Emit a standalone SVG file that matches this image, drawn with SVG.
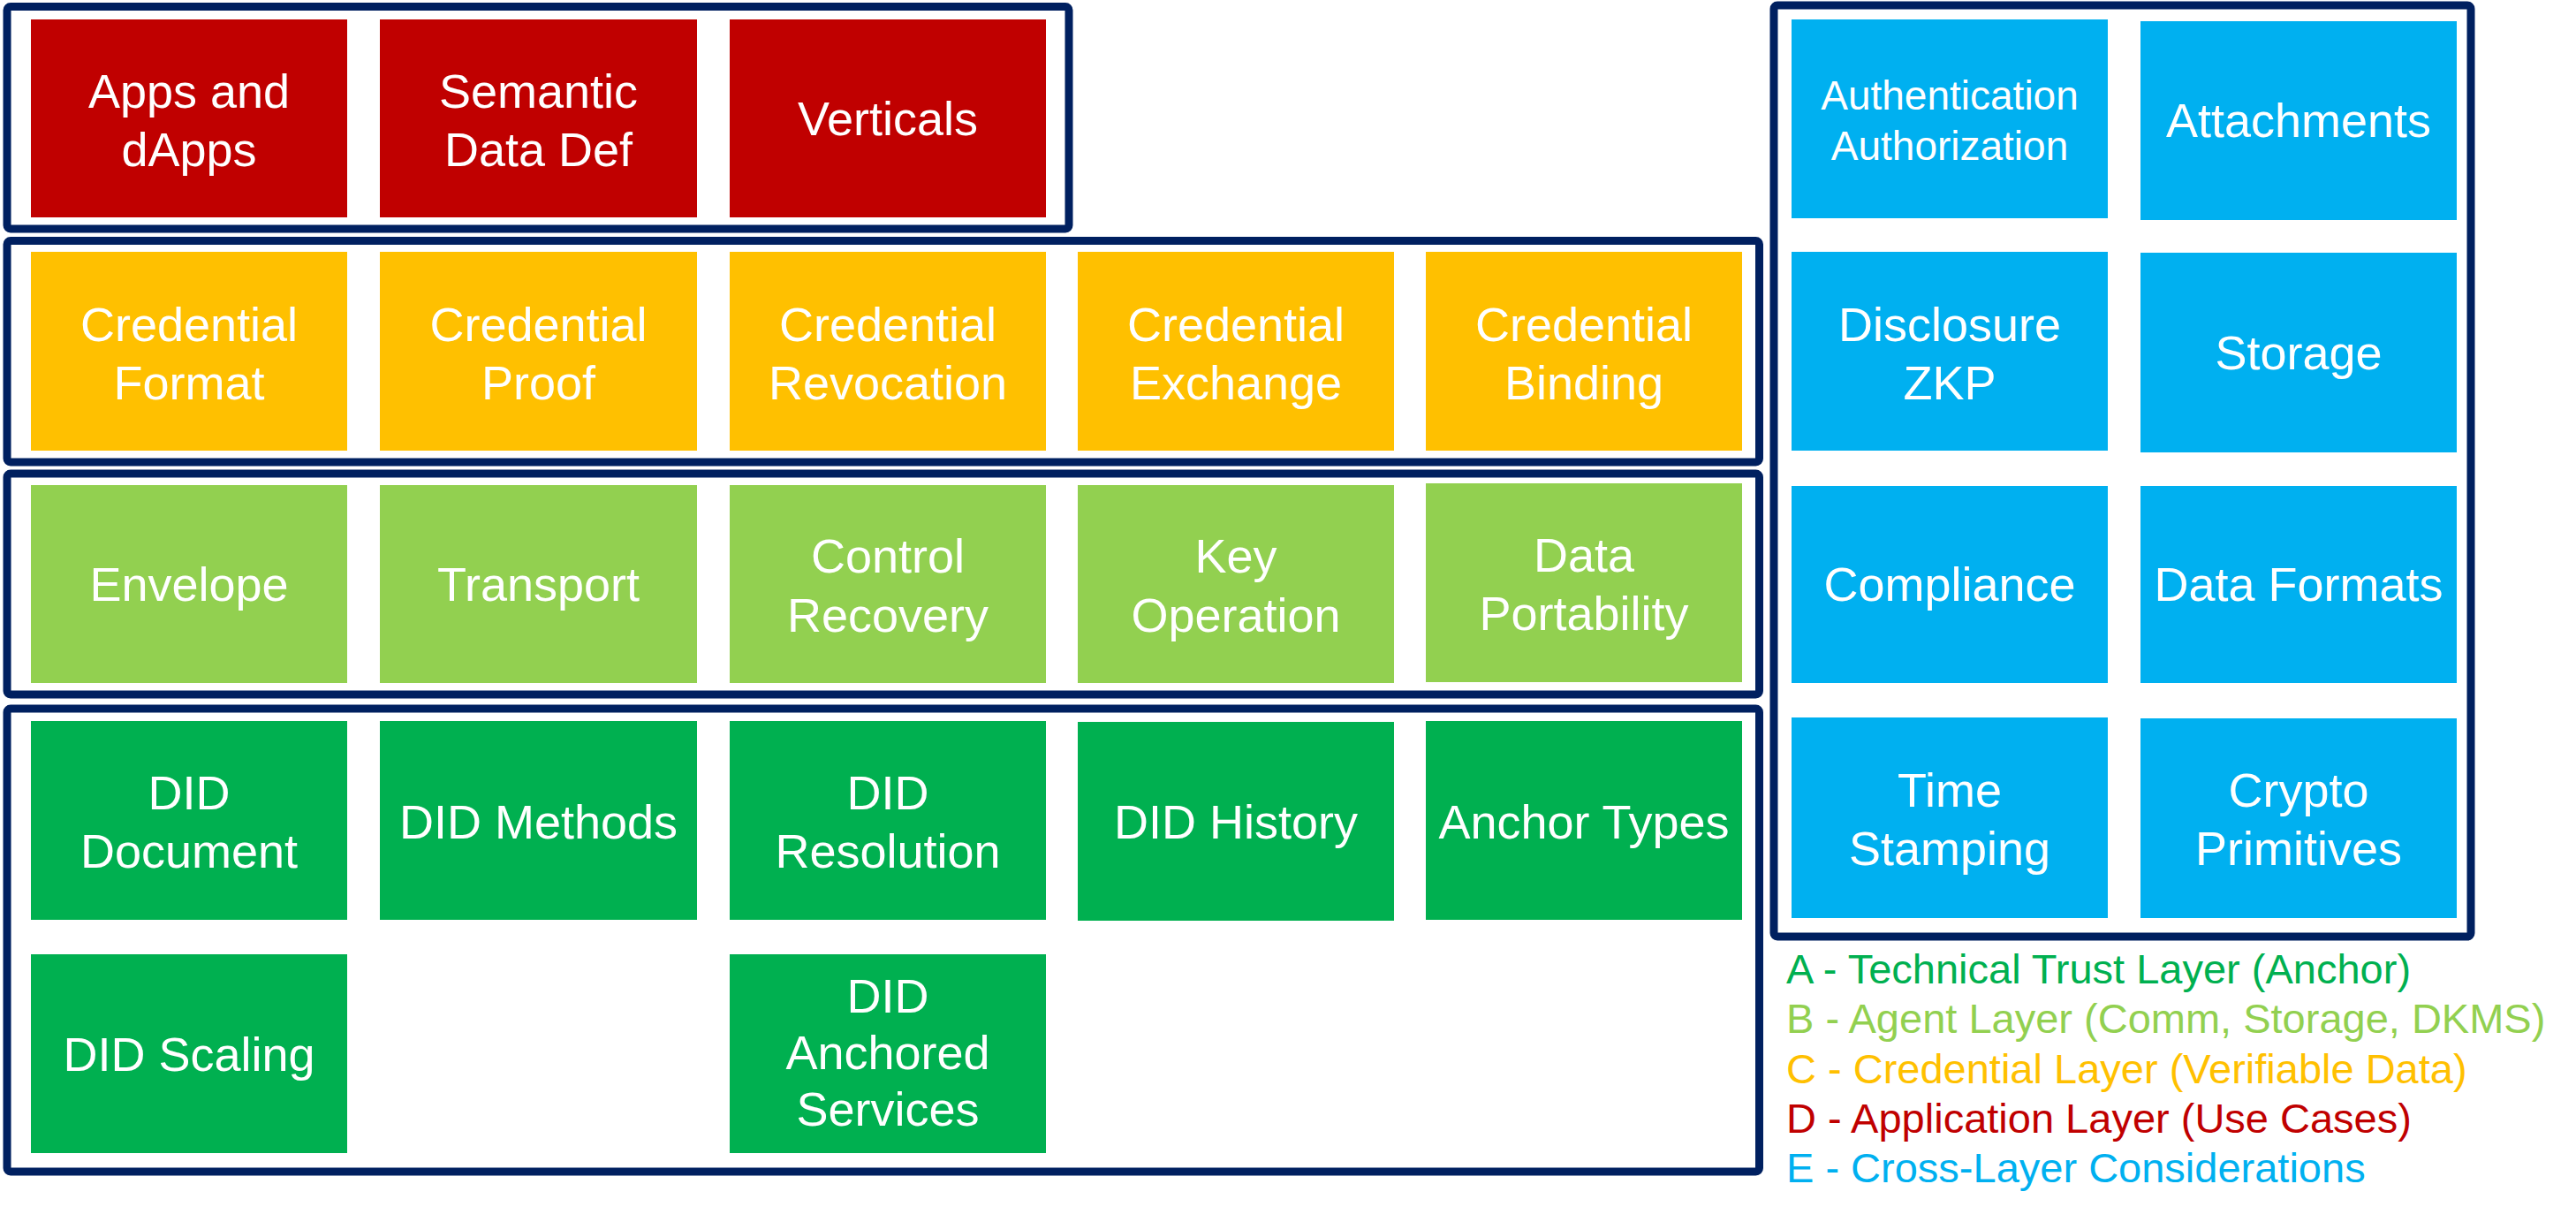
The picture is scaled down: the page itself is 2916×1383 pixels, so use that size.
<svg xmlns="http://www.w3.org/2000/svg" width="2916" height="1383" viewBox="0 0 2916 1383">
<style>
.frame{fill:none;stroke:#002060;stroke-width:9;}
.r{fill:#C00000}.y{fill:#FFC000}.lg{fill:#92D050}.g{fill:#00B050}.b{fill:#00B0F0}
.t{font-family:"Liberation Sans",Arial,sans-serif;font-size:54px;fill:#FFFFFF;text-anchor:middle}
.ts{font-size:46px}
.lgd{font-family:"Liberation Sans",Arial,sans-serif;font-size:47px}
</style>
<rect width="2916" height="1383" fill="#FFFFFF"/>
<g id="frames">
<rect class="frame" x="8" y="7.5" width="1202" height="251.5" rx="4"/>
<rect class="frame" x="8" y="272.5" width="1983.5" height="250.5" rx="4"/>
<rect class="frame" x="8" y="536" width="1983.5" height="250" rx="4"/>
<rect class="frame" x="8" y="802" width="1983.5" height="524" rx="4"/>
<rect class="frame" x="2008" y="6" width="789" height="1054" rx="4"/>
</g>
<g id="connectors"></g>
<g id="apps"><rect class="r" x="35" y="22" width="358" height="224"/><text class="t" x="214" y="122">Apps and</text><text class="t" x="214" y="188">dApps</text></g>
<g id="semantic"><rect class="r" x="430" y="22" width="359" height="224"/><text class="t" x="609.5" y="122">Semantic</text><text class="t" x="609.5" y="188">Data Def</text></g>
<g id="verticals"><rect class="r" x="826" y="22" width="358" height="224"/><text class="t" x="1005" y="153">Verticals</text></g>

<g id="cred-format"><rect class="y" x="35" y="285" width="358" height="225"/><text class="t" x="214" y="386">Credential</text><text class="t" x="214" y="452">Format</text></g>
<g id="cred-proof"><rect class="y" x="430" y="285" width="359" height="225"/><text class="t" x="609.5" y="386">Credential</text><text class="t" x="609.5" y="452">Proof</text></g>
<g id="cred-revocation"><rect class="y" x="826" y="285" width="358" height="225"/><text class="t" x="1005" y="386">Credential</text><text class="t" x="1005" y="452">Revocation</text></g>
<g id="cred-exchange"><rect class="y" x="1220" y="285" width="358" height="225"/><text class="t" x="1399" y="386">Credential</text><text class="t" x="1399" y="452">Exchange</text></g>
<g id="cred-binding"><rect class="y" x="1614" y="285" width="358" height="225"/><text class="t" x="1793" y="386">Credential</text><text class="t" x="1793" y="452">Binding</text></g>

<g id="envelope"><rect class="lg" x="35" y="549" width="358" height="224"/><text class="t" x="214" y="680">Envelope</text></g>
<g id="transport"><rect class="lg" x="430" y="549" width="359" height="224"/><text class="t" x="609.5" y="680">Transport</text></g>
<g id="control-recovery"><rect class="lg" x="826" y="549" width="358" height="224"/><text class="t" x="1005" y="648">Control</text><text class="t" x="1005" y="715">Recovery</text></g>
<g id="key-operation"><rect class="lg" x="1220" y="549" width="358" height="224"/><text class="t" x="1399" y="648">Key</text><text class="t" x="1399" y="715">Operation</text></g>
<g id="data-portability"><rect class="lg" x="1614" y="547" width="358" height="225"/><text class="t" x="1793" y="647">Data</text><text class="t" x="1793" y="713">Portability</text></g>

<g id="did-document"><rect class="g" x="35" y="816" width="358" height="225"/><text class="t" x="214" y="916">DID</text><text class="t" x="214" y="982">Document</text></g>
<g id="did-methods"><rect class="g" x="430" y="816" width="359" height="225"/><text class="t" x="609.5" y="949">DID Methods</text></g>
<g id="did-resolution"><rect class="g" x="826" y="816" width="358" height="225"/><text class="t" x="1005" y="916">DID</text><text class="t" x="1005" y="982">Resolution</text></g>
<g id="did-history"><rect class="g" x="1220" y="817" width="358" height="225"/><text class="t" x="1399" y="949">DID History</text></g>
<g id="anchor-types"><rect class="g" x="1614" y="816" width="358" height="225"/><text class="t" x="1793" y="949">Anchor Types</text></g>
<g id="did-scaling"><rect class="g" x="35" y="1080" width="358" height="225"/><text class="t" x="214" y="1212">DID Scaling</text></g>
<g id="did-anchored-services"><rect class="g" x="826" y="1080" width="358" height="225"/><text class="t" x="1005" y="1146">DID</text><text class="t" x="1005" y="1210">Anchored</text><text class="t" x="1005" y="1274">Services</text></g>

<g id="authentication"><rect class="b" x="2028" y="22" width="358" height="225"/><text class="t ts" x="2207" y="124">Authentication</text><text class="t ts" x="2207" y="181">Authorization</text></g>
<g id="attachments"><rect class="b" x="2423" y="24" width="358" height="225"/><text class="t" x="2602" y="155">Attachments</text></g>
<g id="disclosure"><rect class="b" x="2028" y="285" width="358" height="225"/><text class="t" x="2207" y="386">Disclosure</text><text class="t" x="2207" y="452">ZKP</text></g>
<g id="storage"><rect class="b" x="2423" y="286" width="358" height="226"/><text class="t" x="2602" y="418">Storage</text></g>
<g id="compliance"><rect class="b" x="2028" y="550" width="358" height="223"/><text class="t" x="2207" y="680">Compliance</text></g>
<g id="data-formats"><rect class="b" x="2423" y="550" width="358" height="223"/><text class="t" x="2602" y="680">Data Formats</text></g>
<g id="time-stamping"><rect class="b" x="2028" y="812" width="358" height="227"/><text class="t" x="2207" y="913">Time</text><text class="t" x="2207" y="979">Stamping</text></g>
<g id="crypto-primitives"><rect class="b" x="2423" y="813" width="358" height="226"/><text class="t" x="2602" y="913">Crypto</text><text class="t" x="2602" y="979">Primitives</text></g>

<g id="legend" class="lgd">
<text x="2022" y="1113" fill="#00B050">A - Technical Trust Layer (Anchor)</text>
<text x="2022" y="1169" fill="#92D050">B - Agent Layer (Comm, Storage, DKMS)</text>
<text x="2022" y="1226" fill="#FFC000">C - Credential Layer (Verifiable Data)</text>
<text x="2022" y="1282" fill="#C00000">D - Application Layer (Use Cases)</text>
<text x="2022" y="1338" fill="#00B0F0">E - Cross-Layer Considerations</text>
</g>
</svg>
